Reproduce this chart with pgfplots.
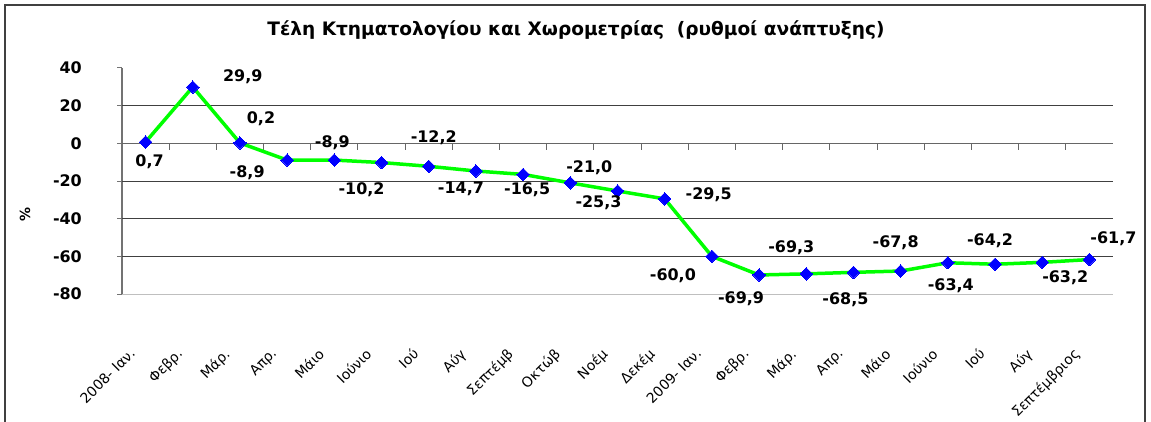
\documentclass[border=0pt]{standalone}
\usepackage{pgfplots}
\pgfplotsset{compat=1.18}
\usepackage{fontspec}
\setmainfont{DejaVu Sans}
\definecolor{linegreen}{HTML}{00FF00}
\definecolor{markblue}{HTML}{0000FF}
\newcommand{\lblfont}{\fontsize{16}{18}\selectfont\bfseries}
\begin{document}
\begin{tikzpicture}[x=1bp,y=1bp]
\useasboundingbox (0,0) rectangle (1151,421);
\draw[line width=2bp, black!75] (5,-20) rectangle (1145,416);
\node[font=\fontsize{18.6}{20}\selectfont\bfseries] at (576,391) {Τέλη Κτηματολογίου και Χωρομετρίας~~(ρυθμοί ανάπτυξης)};
\node[font=\fontsize{14}{16}\selectfont\bfseries, rotate=90] at (25,206) {\%};
\begin{axis}[
  at={(122bp,127bp)}, anchor=south west,
  scale only axis, width=991bp, height=226bp,
  xmin=-0.5, xmax=20.5, ymin=-80, ymax=40,
  clip=false,
  axis lines=left,
  axis line style={-},
  x axis line style={draw=black!25, line width=1bp},
  y axis line style={draw=black!55, line width=1.5bp},
  xtick={0,...,20},
  xticklabels={2008- Ιαν.,Φεβρ.,Μάρ.,Απρ.,Μάιο,Ιούνιο,Ιού,Αύγ,Σεπτέμβ,Οκτώβ,Νοέμ,Δεκέμ,2009- Ιαν.,Φεβρ.,Μάρ.,Απρ.,Μάιο,Ιούνιο,Ιού,Αύγ,Σεπτέμβριος},
  x tick style={draw=none},
  xticklabel style={xshift=-17bp, yshift=-48bp, rotate=45, anchor=north east, inner sep=0pt, font=\fontsize{14}{16}\selectfont},
  ytick={-80,-60,...,40},
  y tick style={draw=black!55, line width=1bp},
  tick align=outside,
  major tick length=5bp,
  yticklabel style={anchor=east, inner sep=0pt, xshift=-35bp, font=\fontsize{16}{18}\selectfont\bfseries},
  /pgf/number format/assume math mode=true,
  extra y ticks={-60,-40,-20,20},
  extra y tick labels={},
  extra y tick style={ymajorgrids=true, major grid style={draw=black!75, line width=1bp}, y tick style={draw=none}},
]
\draw[black!60, line width=1.2bp] (axis cs:-0.5,0) -- (axis cs:20.5,0);
\pgfplotsinvokeforeach{0.5,1.5,...,19.5}{\draw[black!60, line width=1bp] (axis cs:#1,0) -- ([yshift=-7bp]axis cs:#1,0);}
\addplot[color=linegreen, line width=3.5bp, mark=square*, mark size=4.4bp,
  mark options={fill=markblue, draw=markblue, rotate=45, line width=0pt},
  nodes near coords, point meta=explicit symbolic,
  visualization depends on={value \thisrow{dx}\as\dx},
  visualization depends on={value \thisrow{dy}\as\dy},
  every node near coord/.append style={anchor=center, inner sep=0pt, xshift=\dx bp, yshift=\dy bp, font=\lblfont, text=black}]
table[x=x, y=y, meta=lab] {
x y dx dy lab
0 0.7 4 -20 0,7
1 29.9 50 10 29,9
2 0.2 21 24 0,2
3 -8.9 -40 -13 -8,9
4 -8.9 -2 17 -8,9
5 -10.2 -20 -27 -10,2
6 -12.2 5 29 -12,2
7 -14.7 -15 -18 -14,7
8 -16.5 4 -15 -16,5
9 -21.0 19 15 -21,0
10 -25.3 -19 -12 -25,3
11 -29.5 44 4 -29,5
12 -60.0 -39 -19 -60,0
13 -69.9 -18 -24 -69,9
14 -69.3 -15 26 -69,3
15 -68.5 -8 -27 -68,5
16 -67.8 -5 28.5 -67,8
17 -63.4 3 -22.5 -63,4
18 -64.2 -5 23.5 -64,2
19 -63.2 23 -15 -63,2
20 -61.7 24 21 -61,7
};
\end{axis}
\end{tikzpicture}
\end{document}
